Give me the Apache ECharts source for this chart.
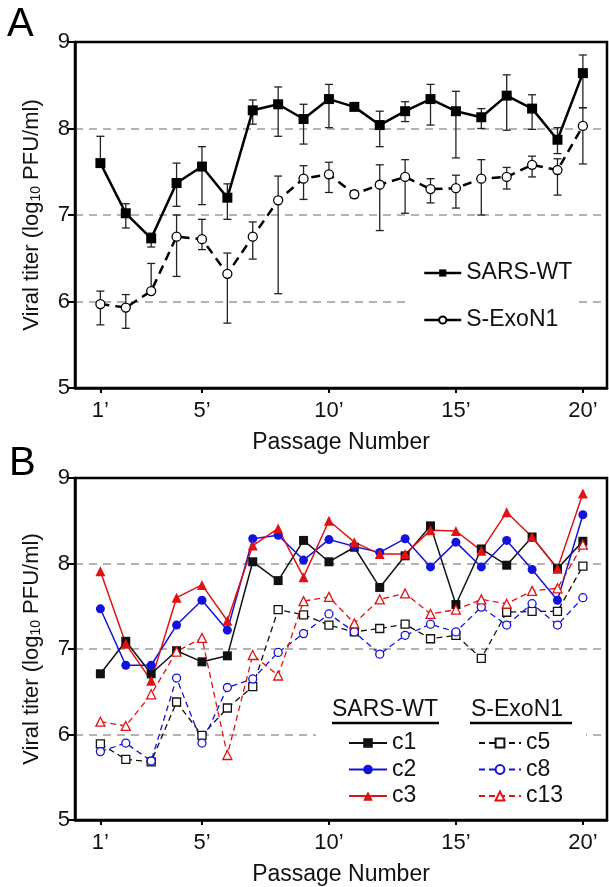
<!DOCTYPE html>
<html lang="en">
<head>
<meta charset="UTF-8">
<title>Viral titer by passage</title>
<style>
  html, body { margin: 0; padding: 0; background: #fff; }
  #main { width: 609px; height: 887px; }
</style>
</head>
<body>
<div id="main"></div>
<script src="https://cdn.jsdelivr.net/npm/echarts@6/dist/echarts.min.js"></script>
<script>
// passages 1..20
var passages = [1, 2, 3, 4, 5, 6, 7, 8, 9, 10, 11, 12, 13, 14, 15, 16, 17, 18, 19, 20];
var tickVals = [1, 5, 10, 15, 20];

// panel A: mean titer with error bar bounds
var wtMean = [7.60, 7.02, 6.73, 7.37, 7.56, 7.20, 8.21, 8.28, 8.11, 8.34, 8.25, 8.04, 8.20, 8.34, 8.20, 8.13, 8.38, 8.23, 7.87, 8.64];
var wtHi   = [7.91, 7.13, 6.79, 7.60, 7.79, 7.36, 8.33, 8.48, 8.28, 8.51, 8.29, 8.20, 8.31, 8.51, 8.43, 8.23, 8.62, 8.39, 8.01, 8.85];
var wtLo   = [7.60, 6.85, 6.63, 7.10, 7.12, 6.95, 8.05, 7.91, 7.82, 8.01, 8.21, 7.79, 8.08, 8.04, 7.66, 8.00, 7.98, 7.99, 7.71, 8.24];
var exoMean = [5.97, 5.93, 6.12, 6.75, 6.72, 6.32, 6.75, 7.17, 7.42, 7.47, 7.24, 7.35, 7.44, 7.30, 7.31, 7.42, 7.44, 7.58, 7.52, 8.03];
var exoHi   = [6.12, 6.08, 6.44, 7.00, 6.95, 6.56, 6.92, 7.45, 7.57, 7.61, 7.28, 7.58, 7.64, 7.42, 7.46, 7.64, 7.55, 7.68, 7.65, 8.24];
var exoLo   = [5.73, 5.69, 6.12, 6.29, 6.60, 5.75, 6.49, 6.09, 7.18, 7.26, 7.20, 6.82, 7.02, 7.14, 7.08, 7.00, 7.30, 7.44, 7.23, 7.59];

// panel B: individual clones
var c1  = [6.71, 7.09, 6.71, 6.98, 6.85, 6.92, 8.02, 7.80, 8.27, 8.02, 8.19, 7.72, 8.09, 8.44, 7.52, 8.17, 7.98, 8.31, 7.94, 8.26];
var c2  = [7.47, 6.81, 6.81, 7.28, 7.57, 7.22, 8.29, 8.33, 8.04, 8.28, 8.20, 8.13, 8.29, 7.96, 8.25, 7.96, 8.27, 7.93, 7.57, 8.57];
var c3  = [7.91, 7.06, 6.63, 7.60, 7.75, 7.33, 8.21, 8.41, 7.84, 8.50, 8.25, 8.11, 8.11, 8.39, 8.38, 8.15, 8.60, 8.31, 7.94, 8.82];
var c5  = [5.89, 5.71, 5.68, 6.38, 5.99, 6.31, 6.56, 7.46, 7.40, 7.28, 7.20, 7.24, 7.29, 7.12, 7.16, 6.89, 7.43, 7.44, 7.44, 7.97];
var c8  = [5.80, 5.90, 5.69, 6.66, 5.90, 6.55, 6.65, 6.96, 7.18, 7.41, 7.20, 6.94, 7.16, 7.29, 7.20, 7.49, 7.28, 7.53, 7.28, 7.60];
var c13 = [6.15, 6.10, 6.47, 6.97, 7.13, 5.76, 6.93, 6.69, 7.56, 7.61, 7.30, 7.58, 7.65, 7.41, 7.46, 7.58, 7.53, 7.68, 7.71, 8.22];

var FONT = 'Liberation Sans, Arial, sans-serif';
var BLACK = '#111';
var BLUE = '#1212dc';
var RED = '#e31212';

function pairs(vals) {
  return passages.map(function (p, i) { return [p, vals[i]]; });
}
function bars(lo, hi) {
  return passages.map(function (p, i) { return [p, lo[i], hi[i]]; });
}

function errRender(params, api) {
  var x = api.value(0);
  var lo = api.coord([x, api.value(1)]);
  var hi = api.coord([x, api.value(2)]);
  var w = 4;
  var st = { stroke: '#222', lineWidth: 1.3 };
  return {
    type: 'group',
    children: [
      { type: 'line', shape: { x1: lo[0], y1: lo[1], x2: hi[0], y2: hi[1] }, style: st },
      { type: 'line', shape: { x1: lo[0] - w, y1: lo[1], x2: lo[0] + w, y2: lo[1] }, style: st },
      { type: 'line', shape: { x1: hi[0] - w, y1: hi[1], x2: hi[0] + w, y2: hi[1] }, style: st }
    ]
  };
}

function xAxisFor(idx) {
  return {
    type: 'value', gridIndex: idx, min: 0, max: 20.95,
    axisLine: { show: true, lineStyle: { color: '#000', width: 2.5 } },
    axisTick: { show: true, customValues: tickVals, length: 5, lineStyle: { color: '#000', width: 2 } },
    axisLabel: {
      customValues: tickVals, margin: 12, fontSize: 22, color: BLACK, fontFamily: FONT,
      formatter: function (v) { return v + '\u2019'; }
    },
    splitLine: { show: false },
    name: 'Passage Number', nameLocation: 'middle', nameGap: 43,
    nameTextStyle: { fontSize: 23, color: BLACK, fontFamily: FONT }
  };
}

function yAxisFor(idx) {
  return {
    type: 'value', gridIndex: idx, min: 5, max: 9, interval: 1,
    axisLine: { show: true, lineStyle: { color: '#000', width: 2.5 } },
    axisTick: { show: true, length: 7, lineStyle: { color: '#000', width: 2 } },
    axisLabel: { margin: 5, fontSize: 22, color: BLACK, fontFamily: FONT },
    splitLine: {
      show: true, showMinLine: false, showMaxLine: false,
      lineStyle: { color: '#9a9a9a', width: 1.6, type: [8, 6] }
    },
    name: 'Viral titer (log{s|10} PFU/ml)', nameLocation: 'middle', nameGap: 32,
    nameTextStyle: {
      fontSize: 22, color: BLACK, fontFamily: FONT,
      rich: { s: { fontSize: 14, fontFamily: FONT, color: BLACK, padding: [9, 0, 0, 0] } }
    }
  };
}

function solid(name, data, grid, color, symbol, size, width) {
  return {
    name: name, type: 'line', xAxisIndex: grid, yAxisIndex: grid, data: data,
    symbol: symbol, symbolSize: size,
    lineStyle: { color: color, width: width },
    itemStyle: { color: color }
  };
}
function open(name, data, grid, color, symbol, size, width, dash) {
  return {
    name: name, type: 'line', xAxisIndex: grid, yAxisIndex: grid, data: data,
    symbol: symbol, symbolSize: size,
    lineStyle: { color: color, width: width, type: dash },
    itemStyle: { color: '#fff', borderColor: color, borderWidth: 1.3 }
  };
}

var legendText = { fontSize: 23, color: BLACK, fontFamily: FONT, lineHeight: 26 };

var option = {
  animation: false,
  backgroundColor: '#fff',
  grid: [
    { left: 75, right: 2, top: 42, bottom: 499, show: true, borderColor: '#000', borderWidth: 2.5 },
    { left: 75, right: 2, top: 478, bottom: 63, show: true, borderColor: '#000', borderWidth: 2.5 }
  ],
  xAxis: [xAxisFor(0), xAxisFor(1)],
  yAxis: [yAxisFor(0), yAxisFor(1)],
  legend: [
    {
      data: ['SARS-WT', 'S-ExoN1'], orient: 'vertical', left: 407, top: 256,
      padding: [4, 6, 4, 16], itemWidth: 37, itemHeight: 9, itemGap: 21,
      backgroundColor: '#fff', textStyle: legendText,
      lineStyle: { type: 'solid', width: 2.5 }
    },
    {
      data: ['c1', 'c2', 'c3'], orient: 'vertical', left: 348, top: 730,
      padding: 0, itemWidth: 38, itemHeight: 12, itemGap: 0.5, textStyle: legendText
    },
    {
      data: ['c5', 'c8', 'c13'], orient: 'vertical', left: 478, top: 730,
      padding: 0, itemWidth: 42, itemHeight: 11, itemGap: 0.5, textStyle: legendText
    }
  ],
  graphic: [
    { type: 'text', x: 7, y: 5, z: 10, style: { text: 'A', font: '40px ' + FONT, fill: '#000' } },
    { type: 'text', x: 9, y: 444, z: 10, style: { text: 'B', font: '40px ' + FONT, fill: '#000' } },
    { type: 'rect', z: 1, shape: { x: 316, y: 694, width: 270, height: 120 }, style: { fill: '#fff' } },
    { type: 'text', x: 332, y: 710, z: 10, style: { text: 'SARS-WT', font: '23px ' + FONT, fill: BLACK, verticalAlign: 'middle' } },
    { type: 'line', z: 10, shape: { x1: 332, y1: 723, x2: 439, y2: 723 }, style: { stroke: '#000', lineWidth: 2.5 } },
    { type: 'text', x: 471, y: 710, z: 10, style: { text: 'S-ExoN1', font: '23px ' + FONT, fill: BLACK, verticalAlign: 'middle' } },
    { type: 'line', z: 10, shape: { x1: 470, y1: 723, x2: 572, y2: 723 }, style: { stroke: '#000', lineWidth: 2.5 } }
  ],
  series: [
    { type: 'custom', name: 'errWT', xAxisIndex: 0, yAxisIndex: 0, renderItem: errRender, encode: { x: 0, y: [1, 2] }, data: bars(wtLo, wtHi) },
    { type: 'custom', name: 'errExo', xAxisIndex: 0, yAxisIndex: 0, renderItem: errRender, encode: { x: 0, y: [1, 2] }, data: bars(exoLo, exoHi) },
    solid('SARS-WT', pairs(wtMean), 0, '#000', 'rect', 10, 2.5),
    open('S-ExoN1', pairs(exoMean), 0, '#000', 'circle', 9, 2.5, [9, 6]),
    solid('c1', pairs(c1), 1, BLACK, 'rect', 9, 1.5),
    solid('c2', pairs(c2), 1, BLUE, 'circle', 9, 1.5),
    solid('c3', pairs(c3), 1, RED, 'triangle', 10, 1.5),
    open('c5', pairs(c5), 1, BLACK, 'rect', 8, 1.3, [6, 4]),
    open('c8', pairs(c8), 1, BLUE, 'circle', 8, 1.3, [6, 4]),
    open('c13', pairs(c13), 1, RED, 'triangle', 9, 1.3, [6, 4])
  ]
};

var myChart = echarts.init(document.getElementById('main'));
myChart.setOption(option);
</script>
</body>
</html>
